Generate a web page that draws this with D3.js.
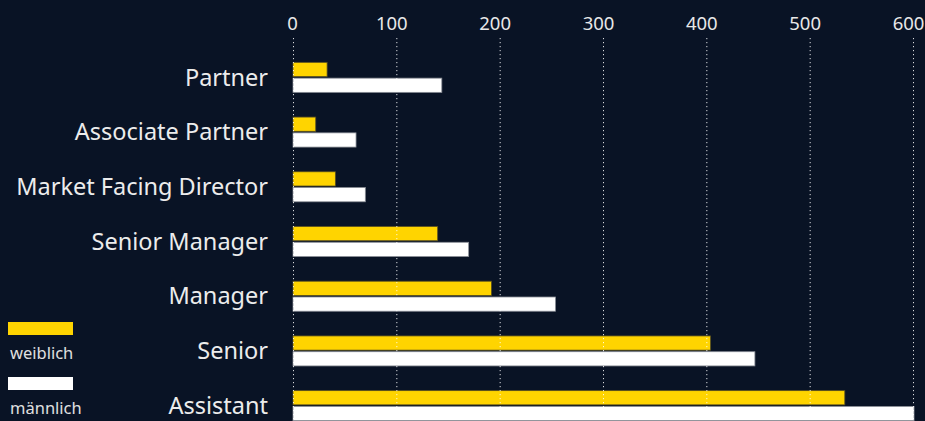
<!DOCTYPE html>
<html>
<head>
<meta charset="utf-8">
<script src="https://cdn.jsdelivr.net/npm/d3@7"></script>
<style>
  html, body { margin: 0; padding: 0; background: #091325; }
  svg { display: block; font-family: "Noto Sans", sans-serif; }
</style>
</head>
<body>
<div class="chart"></div>
<script>
const categories = ["Partner", "Associate Partner", "Market Facing Director", "Senior Manager", "Manager", "Senior", "Assistant"];
const series = ["weiblich", "männlich"];
const weiblich = [33, 22, 41, 140, 192, 404, 534];
const maennlich = [144, 61, 70, 170, 254, 447, 601];
const xTicks = [0, 100, 200, 300, 400, 500, 600];

const w = 925;
const h = 421;
const colors = { "weiblich": "#ffd400", "männlich": "#ffffff" };
const strokes = { "weiblich": "#5a5020", "männlich": "#8a8e96" };

const data = categories.map((c, i) => ({ cat: c, values: [
    { key: "weiblich", value: weiblich[i] },
    { key: "männlich", value: maennlich[i] }
]}));

const x = d3.scaleLinear()
    .domain([0, 600])
    .range([293, 913]);
const y = d3.scaleBand()
    .domain(categories)
    .range([50, 433]);
const ySub = d3.scaleBand()
    .domain(series)
    .range([-15, 15])
    .paddingInner(0.1);

const svg = d3.select(".chart")
    .append("svg")
    .attr("width", w)
    .attr("height", h);

svg.append("rect")
    .attr("width", w)
    .attr("height", h)
    .attr("fill", "#091325");

// bars
const groups = svg.selectAll(".group")
    .data(data)
    .enter()
    .append("g")
    .attr("class", "group")
    .attr("transform", d => `translate(0, ${y(d.cat) + y.bandwidth() / 2})`);

groups.selectAll("rect")
    .data(d => d.values)
    .enter()
    .append("rect")
    .attr("x", x(0))
    .attr("y", d => ySub(d.key))
    .attr("width", d => x(d.value) - x(0))
    .attr("height", ySub.bandwidth())
    .attr("fill", d => colors[d.key])
    .attr("stroke", d => strokes[d.key])
    .attr("stroke-width", 0.8);

// grid + top axis
const xAxis = d3.axisTop(x)
    .tickValues(xTicks)
    .tickSize(-(h - 38))
    .tickPadding(8);

const axisG = svg.append("g")
    .attr("transform", `translate(0, 38)`)
    .call(xAxis);
axisG.select(".domain").remove();
axisG.selectAll(".tick line")
    .attr("stroke", "#ffffff")
    .attr("stroke-opacity", 0.85)
    .attr("stroke-dasharray", "1.2,2.8");
axisG.selectAll(".tick text")
    .attr("fill", "#e8e8e8")
    .attr("font-size", 18.5)
    .attr("dx", (d, i) => i === 0 ? -1 : -5)
    .attr("font-family", "Noto Sans, sans-serif");

// category labels
svg.selectAll(".cat")
    .data(categories)
    .enter()
    .append("text")
    .attr("class", "cat")
    .attr("x", 268)
    .attr("y", d => y(d) + y.bandwidth() / 2)
    .attr("dy", "0.35em")
    .attr("text-anchor", "end")
    .attr("fill", "#ececec")
    .attr("font-size", 23.5)
    .text(d => d);

// legend
const legend = svg.selectAll(".legend")
    .data(series)
    .enter()
    .append("g")
    .attr("class", "legend")
    .attr("transform", (d, i) => `translate(8, ${322 + i * 55})`);
legend.append("rect")
    .attr("width", 65)
    .attr("height", 13)
    .attr("fill", d => colors[d]);
legend.append("text")
    .attr("x", 2)
    .attr("y", 37)
    .attr("fill", "#e0e0e0")
    .attr("font-size", 16.5)
    .text(d => d);
</script>
</body>
</html>
